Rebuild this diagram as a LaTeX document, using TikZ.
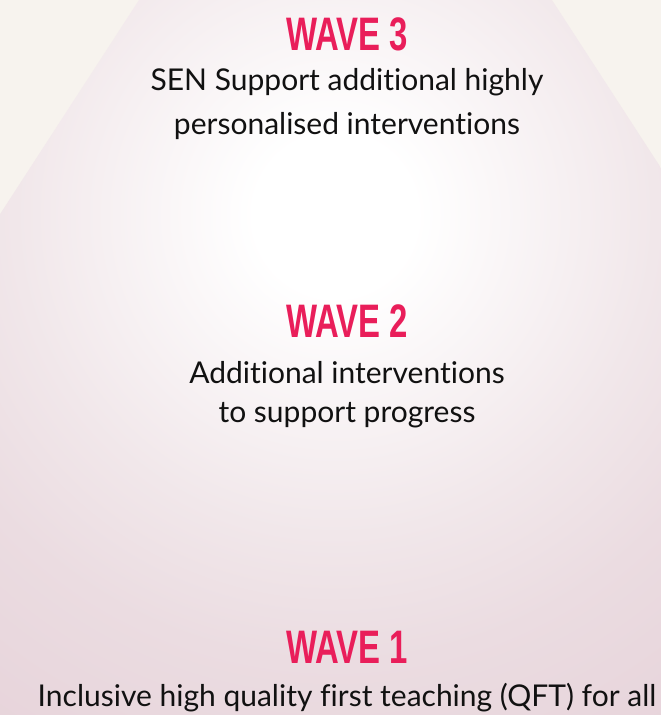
\documentclass[tikz,border=0pt]{standalone}
\usepackage{fontspec}
\setmainfont{Lato}[Ligatures=NoCommon]
\newfontfamily\wavefont{Liberation Sans}[FakeStretch=0.7]
\definecolor{cream}{RGB}{247,243,238}
\definecolor{wavered}{RGB}{233,30,90}
\definecolor{textblack}{RGB}{17,17,17}
\pgfdeclareradialshading{pyramidshade}{\pgfpoint{0bp}{0bp}}{%
  color(0bp)=(white);
  color(2.5bp)=(white);
  color(10bp)=(rgb,255:red,241;green,231;blue,234);
  color(14bp)=(rgb,255:red,235;green,220;blue,225);
  color(23bp)=(rgb,255:red,228;green,206;blue,214);
  color(37.5bp)=(rgb,255:red,216;green,186;blue,196);
  color(50bp)=(rgb,255:red,210;green,178;blue,189)}
\tikzset{
  wavetitle/.style={anchor=base, inner sep=0pt, text=wavered,
    font=\wavefont\bfseries\fontsize{47}{47}\selectfont},
  bodyline/.style={anchor=base, inner sep=0pt, text=textblack,
    font=\fontsize{30}{34}\selectfont}
}
\begin{document}
\begin{tikzpicture}[x=1pt,y=-1pt]
  \fill[cream] (0,0) rectangle (661,715);
  \useasboundingbox (0,0) rectangle (661,715);
  \begin{scope}
    \clip (0,0) rectangle (661,715);
    \clip (139,0) -- (552,0) -- (1016,715) -- (-325,715) -- cycle;
    \shade[shading=pyramidshade] (335,215) circle (800);
  \end{scope}
  % Wave 3
  \node[wavetitle] (w3) at (347,50) {WAVE 3};
  \node[bodyline] (w3a) at (347,90) {SEN Support additional highly};
  \node[bodyline] (w3b) at (347,134) {personalised interventions};
  % Wave 2
  \node[wavetitle] (w2) at (347,337) {WAVE 2};
  \node[bodyline] (w2a) at (347,383) {Additional interventions};
  \node[bodyline] (w2b) at (347,422) {to support progress};
  % Wave 1
  \node[wavetitle] (w1) at (347,663) {WAVE 1};
  \node[bodyline] (w1a) at (347,706) {Inclusive high quality first teaching (QFT) for all};
\end{tikzpicture}
\end{document}
